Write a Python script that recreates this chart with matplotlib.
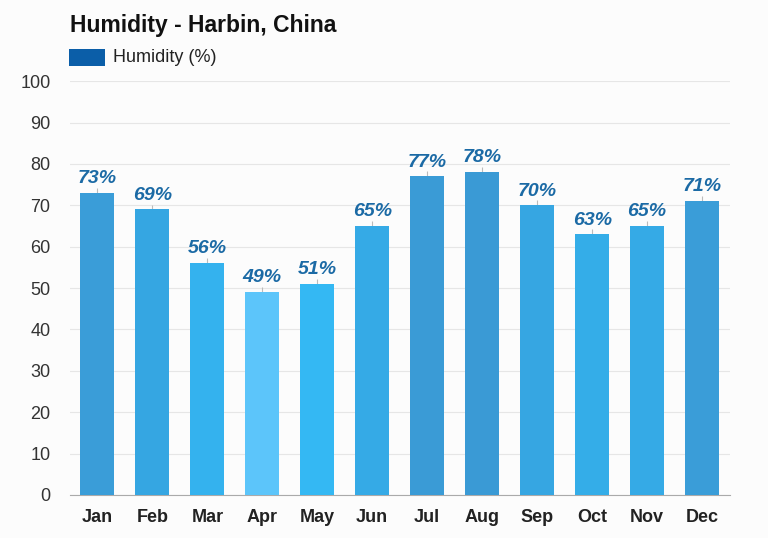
import matplotlib.pyplot as plt
import matplotlib.patches as mpatches
import numpy as np

months = ['Jan', 'Feb', 'Mar', 'Apr', 'May', 'Jun',
          'Jul', 'Aug', 'Sep', 'Oct', 'Nov', 'Dec']
humidity = [73, 69, 56, 49, 51, 65, 77, 78, 70, 63, 65, 71]
bar_colors = ['#3a9dd8', '#35a6e2', '#34b2ee', '#5cc5fa', '#34b8f3', '#35aae6',
              '#3a9bd6', '#3a9ad5', '#36a6e2', '#34ade8', '#35aae6', '#3a9dd8']

plt.rcParams['font.family'] = ['Liberation Sans', 'DejaVu Sans']

fig = plt.figure(figsize=(7.68, 5.38), dpi=100)
fig.patch.set_facecolor('#fcfcfc')
ax = fig.add_axes([0.091, 0.080, 0.859, 0.769])
ax.set_facecolor('#fcfcfc')

x = np.arange(len(months))
bars = ax.bar(x, humidity, width=0.62, color=bar_colors, zorder=3)

# small whisker ticks above bars
ax.vlines(x, humidity, np.array(humidity) + 1.2, color='#bbbbbb', linewidth=0.8, zorder=2)

for xi, v in zip(x, humidity):
    ax.text(xi, v + 1.4, f'{v}%', ha='center', va='bottom', fontsize=14,
            fontweight='bold', fontstyle='italic', color='#1b6aa5', zorder=4)

ax.set_xlim(-0.5, len(months) - 0.5)
ax.set_ylim(0, 100)
ax.set_yticks(range(0, 101, 10))
ax.set_xticks(x)
ax.set_xticklabels(months, fontsize=13, fontweight='bold', color='#222222')
ax.tick_params(axis='y', labelsize=13, colors='#333333', length=0, pad=14)
ax.tick_params(axis='x', length=0, pad=10)
ax.grid(axis='y', color='#e6e6e6', linewidth=0.8, zorder=0)
for s in ['top', 'right', 'left']:
    ax.spines[s].set_visible(False)
ax.spines['bottom'].set_color('#aaaaaa')

fig.text(0.091, 0.952, 'Humidity - Harbin, China', fontsize=16.5, fontweight='bold',
         color='#111111', va='center', ha='left')
fig.patches.append(mpatches.Rectangle((0.090, 0.877), 0.047, 0.032, transform=fig.transFigure,
                                      facecolor='#0b5ea8', edgecolor='none'))
fig.text(0.147, 0.893, 'Humidity (%)', fontsize=13, color='#222222', va='center', ha='left')

fig.savefig('out.png', dpi=100, facecolor=fig.get_facecolor())
